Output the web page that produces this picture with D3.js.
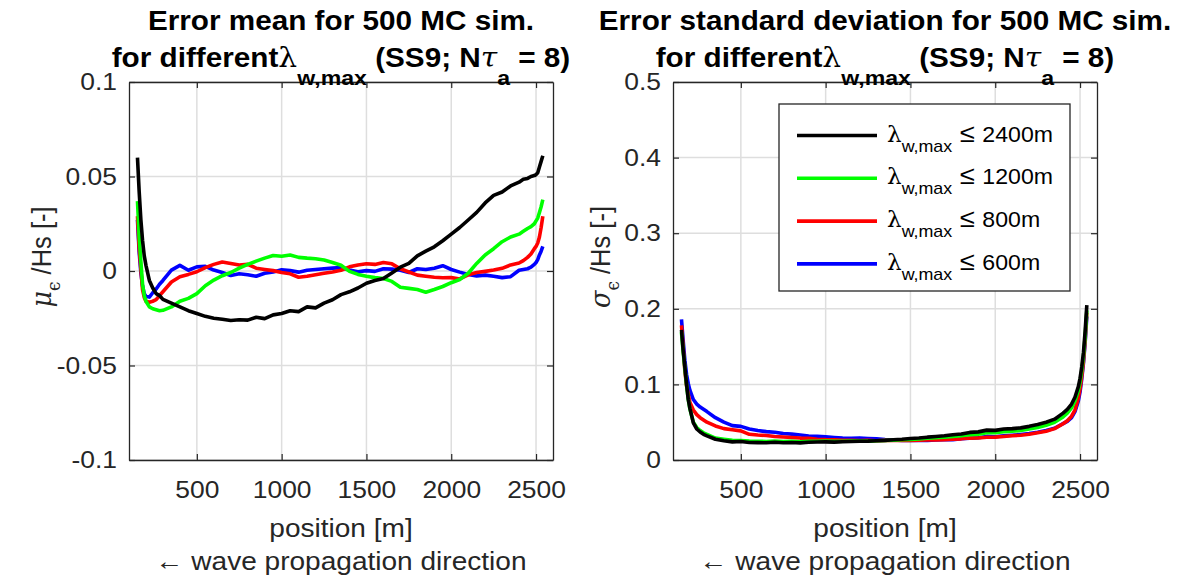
<!DOCTYPE html>
<html lang="en">
  <head>
    <meta charset="utf-8">
    <title>Error mean / std for 500 MC sim.</title>
    <script src="https://d3js.org/d3.v7.js"></script>
    <style>
      body { margin: 0; background: #fff; }
      text { font-family: "Liberation Sans", Arial, sans-serif; fill: #262626; }
      .greek { font-family: "DejaVu Serif", "Liberation Serif", serif; }
    </style>
  </head>
  <body>
    <script type="text/javascript">
      // positions along the domain [m]
      var position = [
        150, 160, 170, 180, 190, 200, 220, 240, 260, 280,
        300, 350, 400, 450, 500, 550, 600, 650, 700, 750,
        800, 850, 900, 950, 1000, 1050, 1100, 1150, 1200, 1250,
        1300, 1350, 1400, 1450, 1500, 1550, 1600, 1650, 1700, 1750,
        1800, 1850, 1900, 1950, 2000, 2050, 2100, 2150, 2200, 2250,
        2300, 2350, 2400, 2425, 2450, 2470, 2490, 2500, 2510, 2520,
        2530, 2540];

      // error mean / Hs
      var mean2400 = [
        0.060, 0.042, 0.027, 0.016, 0.008, 0.003, -0.005, -0.009, -0.012, -0.013,
        -0.015, -0.017, -0.019, -0.021, -0.0225, -0.024, -0.025, -0.0255, -0.0262, -0.0258,
        -0.026, -0.0245, -0.0252, -0.0232, -0.0225, -0.021, -0.0215, -0.019, -0.0195, -0.017,
        -0.0152, -0.0125, -0.011, -0.009, -0.0065, -0.005, -0.004, -0.001, 0.002, 0.004,
        0.008, 0.0105, 0.0128, 0.016, 0.0195, 0.023, 0.027, 0.031, 0.036, 0.040,
        0.0418, 0.045, 0.047, 0.0485, 0.049, 0.050, 0.0505, 0.051, 0.052, 0.055,
        0.058, 0.061];
      var mean1200 = [
        0.037, 0.018, 0.005, -0.007, -0.013, -0.016, -0.019, -0.020, -0.0205, -0.021,
        -0.0208, -0.019, -0.016, -0.0145, -0.012, -0.0078, -0.0048, -0.0025, -0.0008, 0.0015,
        0.0035, 0.0052, 0.0068, 0.0082, 0.0078, 0.0085, 0.0072, 0.0068, 0.0065, 0.0058,
        0.0045, 0.003, -0.0002, -0.0018, -0.0028, -0.0035, -0.004, -0.0055, -0.0086, -0.0092,
        -0.0098, -0.0112, -0.0098, -0.0082, -0.0062, -0.0045, -0.0012, 0.004, 0.0085, 0.0118,
        0.0155, 0.018, 0.0195, 0.021, 0.0225, 0.0235, 0.025, 0.0265, 0.028, 0.031,
        0.034, 0.0378];
      var mean800 = [
        0.029, 0.012, 0.001, -0.010, -0.014, -0.016, -0.0165, -0.016, -0.0152, -0.013,
        -0.011, -0.0058, -0.003, -0.0018, -0.0004, 0.0018, 0.0035, 0.0048, 0.004, 0.0032,
        0.0035, 0.0015, 0.0008, 0.0002, -0.0008, -0.0015, -0.0033, -0.0028, -0.002, -0.0012,
        -0.0005, 0.0004, 0.0022, 0.0032, 0.0038, 0.0035, 0.0045, 0.0038, 0.0012, -0.0005,
        -0.0022, -0.0028, -0.0033, -0.0036, -0.0035, -0.0042, -0.002, -0.0008, -0.0002, 0.0005,
        0.0014, 0.0032, 0.0042, 0.0055, 0.0072, 0.009, 0.0118, 0.013, 0.0148, 0.018,
        0.023, 0.029];
      var mean600 = [
        0.027, 0.010, -0.001, -0.008, -0.012, -0.0135, -0.0138, -0.0115, -0.0095, -0.007,
        -0.005, 0.0005, 0.003, 0.0004, 0.0022, 0.0025, 0.0005, -0.0008, -0.0024, -0.0015,
        -0.002, -0.0028, -0.0012, -0.0005, 0.0006, 0.0002, -0.0006, 0.0004, 0.0008, 0.0012,
        0.0015, 0.0018, 0.0005, -0.0004, 0.0002, -0.0002, 0.0012, 0.001, 0.0004, -0.0008,
        0.0012, 0.0008, 0.0015, 0.0028, 0.0008, -0.0006, -0.0018, -0.0026, -0.0022, -0.0028,
        -0.0035, -0.003, 0.0004, 0.0008, 0.0012, 0.002, 0.0035, 0.0045, 0.006, 0.0085,
        0.0105, 0.013];

      // error standard deviation / Hs
      var std2400 = [
        0.172, 0.145, 0.123, 0.100, 0.080, 0.068, 0.049, 0.041, 0.037, 0.034,
        0.032, 0.0275, 0.0255, 0.024, 0.0245, 0.0232, 0.023, 0.0228, 0.0235, 0.0228,
        0.0232, 0.0226, 0.0234, 0.0238, 0.024, 0.0236, 0.0242, 0.0245, 0.0248, 0.025,
        0.0255, 0.026, 0.0268, 0.0275, 0.0285, 0.029, 0.0302, 0.031, 0.032, 0.0335,
        0.0345, 0.0365, 0.0372, 0.0395, 0.0392, 0.041, 0.0415, 0.0425, 0.0445, 0.047,
        0.050, 0.054, 0.062, 0.067, 0.074, 0.083, 0.097, 0.108, 0.123, 0.142,
        0.17, 0.205];
      var std1200 = [
        0.169, 0.143, 0.121, 0.099, 0.080, 0.067, 0.050, 0.043, 0.039, 0.036,
        0.034, 0.029, 0.0275, 0.026, 0.0258, 0.025, 0.0248, 0.0245, 0.025, 0.0245,
        0.0248, 0.0242, 0.0246, 0.0248, 0.025, 0.0246, 0.0248, 0.025, 0.0252, 0.025,
        0.0255, 0.0258, 0.0262, 0.0268, 0.0272, 0.028, 0.0288, 0.0295, 0.0302, 0.0312,
        0.032, 0.0335, 0.0342, 0.036, 0.0362, 0.0375, 0.038, 0.039, 0.041, 0.043,
        0.046, 0.050, 0.057, 0.062, 0.069, 0.078, 0.092, 0.103, 0.118, 0.137,
        0.163, 0.198];
      var std800 = [
        0.178, 0.150, 0.118, 0.098, 0.087, 0.076, 0.066, 0.060, 0.056, 0.053,
        0.050, 0.045, 0.0415, 0.040, 0.0385, 0.034, 0.033, 0.0325, 0.031, 0.0305,
        0.0298, 0.029, 0.0288, 0.0275, 0.027, 0.0268, 0.026, 0.0262, 0.0258, 0.026,
        0.0255, 0.026, 0.0258, 0.0262, 0.026, 0.0262, 0.0265, 0.0265, 0.027, 0.0275,
        0.028, 0.029, 0.0292, 0.030, 0.0302, 0.031, 0.032, 0.0328, 0.034, 0.036,
        0.038, 0.0415, 0.048, 0.052, 0.058, 0.066, 0.082, 0.094, 0.11, 0.13,
        0.158, 0.195];
      var std600 = [
        0.186, 0.158, 0.132, 0.113, 0.101, 0.092, 0.080, 0.074, 0.070, 0.067,
        0.064, 0.056, 0.050, 0.0455, 0.0445, 0.041, 0.039, 0.0375, 0.0368, 0.035,
        0.0342, 0.033, 0.0318, 0.0312, 0.0308, 0.0298, 0.029, 0.0288, 0.0292, 0.0285,
        0.028, 0.027, 0.0265, 0.026, 0.0262, 0.0258, 0.026, 0.0265, 0.0268, 0.027,
        0.0282, 0.0288, 0.0295, 0.0312, 0.0308, 0.032, 0.0328, 0.0338, 0.035, 0.0368,
        0.039, 0.042, 0.048, 0.051, 0.056, 0.064, 0.078, 0.09, 0.107, 0.128,
        0.155, 0.19];

      var legendLabels = ["2400m", "1200m", "800m", "600m"];
      var seriesColors = ["#000000", "#00ff00", "#ff0000", "#0000ff"];
      var xTicks = [500, 1000, 1500, 2000, 2500];
      var meanTicks = [-0.1, -0.05, 0, 0.05, 0.1];
      var stdTicks = [0, 0.1, 0.2, 0.3, 0.4, 0.5];

      var w = 1184, h = 586;
      var plotTop = 82, plotBottom = 460;
      var SX = 1.1;   // the picture is a bit wider than tall
      var axisColor = "#262626";

      var svg = d3.select("body").append("svg")
          .attr("width", w)
          .attr("height", h);

      function label(g, x, y, size, weight, anchor, sx) {
        return g.append("text")
          .attr("transform", `translate(${x},${y}) scale(${sx || SX},1)`)
          .attr("font-size", size)
          .attr("font-weight", weight || "normal")
          .attr("text-anchor", anchor || "middle");
      }

      function drawPanel(p) {
        var xScale = d3.scaleLinear().domain([100, 2600]).range([p.left, p.right]);
        var yScale = d3.scaleLinear().domain(p.yDomain).range([plotBottom, plotTop]);
        var cx = (p.left + p.right) / 2;
        var g = svg.append("g");

        // grid
        g.append("g").selectAll("line").data(xTicks).enter().append("line")
          .attr("x1", d => xScale(d)).attr("x2", d => xScale(d))
          .attr("y1", plotTop).attr("y2", plotBottom)
          .attr("stroke", "#dedede").attr("stroke-width", 1.5);
        g.append("g").selectAll("line").data(p.yTicks).enter().append("line")
          .attr("x1", p.left).attr("x2", p.right)
          .attr("y1", d => yScale(d)).attr("y2", d => yScale(d))
          .attr("stroke", "#dedede").attr("stroke-width", 1.5);

        // lines, 600m first so 2400m ends up on top
        var line = d3.line()
          .x((d, i) => xScale(position[i]))
          .y(d => yScale(d));
        for (var k = p.series.length - 1; k >= 0; k--) {
          g.append("path")
            .attr("d", line(p.series[k]))
            .attr("fill", "none")
            .attr("stroke", seriesColors[k])
            .attr("stroke-width", 3.6)
            .attr("stroke-linejoin", "round");
        }

        // axes, ticks inward
        var fmt = d => String(d);
        var xb = g.append("g").attr("transform", `translate(0,${plotBottom})`)
          .call(d3.axisBottom(xScale).tickValues(xTicks).tickFormat(fmt)
            .tickSizeInner(-6).tickSizeOuter(0).tickPadding(21));
        var xt = g.append("g").attr("transform", `translate(0,${plotTop})`)
          .call(d3.axisTop(xScale).tickValues(xTicks).tickFormat("")
            .tickSizeInner(-6).tickSizeOuter(0));
        var yl = g.append("g").attr("transform", `translate(${p.left},0)`)
          .call(d3.axisLeft(yScale).tickValues(p.yTicks).tickFormat(fmt)
            .tickSizeInner(-6).tickSizeOuter(0).tickPadding(11));
        var yr = g.append("g").attr("transform", `translate(${p.right},0)`)
          .call(d3.axisRight(yScale).tickValues(p.yTicks).tickFormat("")
            .tickSizeInner(-6).tickSizeOuter(0));
        [xb, xt, yl, yr].forEach(function (a) {
          a.select(".domain").attr("stroke", axisColor).attr("stroke-width", 1.3);
          a.selectAll(".tick line").attr("stroke", axisColor).attr("stroke-width", 1.2);
          a.selectAll(".tick text")
            .attr("font-size", 24)
            .attr("font-family", "Liberation Sans, Arial, sans-serif")
            .attr("fill", axisColor)
            .attr("transform", `scale(${SX},1)`);
        });

        // titles
        label(g, cx, 30, 27, "bold").style("fill", "#000").text(p.title);
        var t2 = label(g, cx, 67, 27, "bold").style("fill", "#000");
        t2.append("tspan").text("for different");
        t2.append("tspan").attr("class", "greek").attr("font-weight", "normal").text("λ");
        t2.append("tspan").attr("font-size", 21).attr("dy", 18).text("w,max");
        t2.append("tspan").attr("dy", -18).text(" (SS9; N");
        t2.append("tspan").attr("class", "greek").attr("font-style", "italic")
          .attr("font-weight", "normal").text("τ");
        t2.append("tspan").attr("font-size", 21).attr("dy", 18).text("a");
        t2.append("tspan").attr("dy", -18).text(" = 8)");

        // x labels
        label(g, cx, 537, 25.5).text("position [m]");
        label(g, cx, 570, 25.5).text("← wave propagation direction");

        // y label
        var yt = g.append("text")
          .attr("transform", `translate(${p.ylabelX},257) scale(${SX},1) rotate(-90)`)
          .attr("font-size", 25.5)
          .attr("text-anchor", "middle");
        yt.append("tspan").attr("class", "greek").attr("font-style", "italic").text(p.greek);
        yt.append("tspan").attr("class", "greek").attr("font-size", 17).attr("dy", 8).text("ϵ");
        yt.append("tspan").attr("dy", -8).text(" /Hs [-]");
      }

      drawPanel({
        left: 129, right: 553, yDomain: [-0.1, 0.1], yTicks: meanTicks,
        series: [mean2400, mean1200, mean800, mean600],
        title: "Error mean for 500 MC sim.", ylabelX: 51, greek: "μ"
      });
      drawPanel({
        left: 673, right: 1097, yDomain: [0, 0.5], yTicks: stdTicks,
        series: [std2400, std1200, std800, std600],
        title: "Error standard deviation for 500 MC sim.", ylabelX: 610, greek: "σ"
      });

      // legend
      var lg = svg.append("g");
      lg.append("rect")
        .attr("x", 779).attr("y", 104).attr("width", 291).attr("height", 187)
        .attr("fill", "#fff").attr("stroke", axisColor).attr("stroke-width", 1.3);
      legendLabels.forEach(function (lab, i) {
        var by = 141.5 + i * 42.8;
        lg.append("line")
          .attr("x1", 797).attr("x2", 877)
          .attr("y1", by - 6).attr("y2", by - 6)
          .attr("stroke", seriesColors[i]).attr("stroke-width", 3.6);
        var t = label(lg, 887, by, 22, "normal", "start", 1.05).style("fill", "#000");
        t.append("tspan").attr("class", "greek").text("λ");
        t.append("tspan").attr("font-size", 17).attr("dy", 10).text("w,max");
        t.append("tspan").attr("dy", -10).attr("font-size", 26).text(" ≤ ");
        t.append("tspan").text(lab);
      });
    </script>
  </body>
</html>
